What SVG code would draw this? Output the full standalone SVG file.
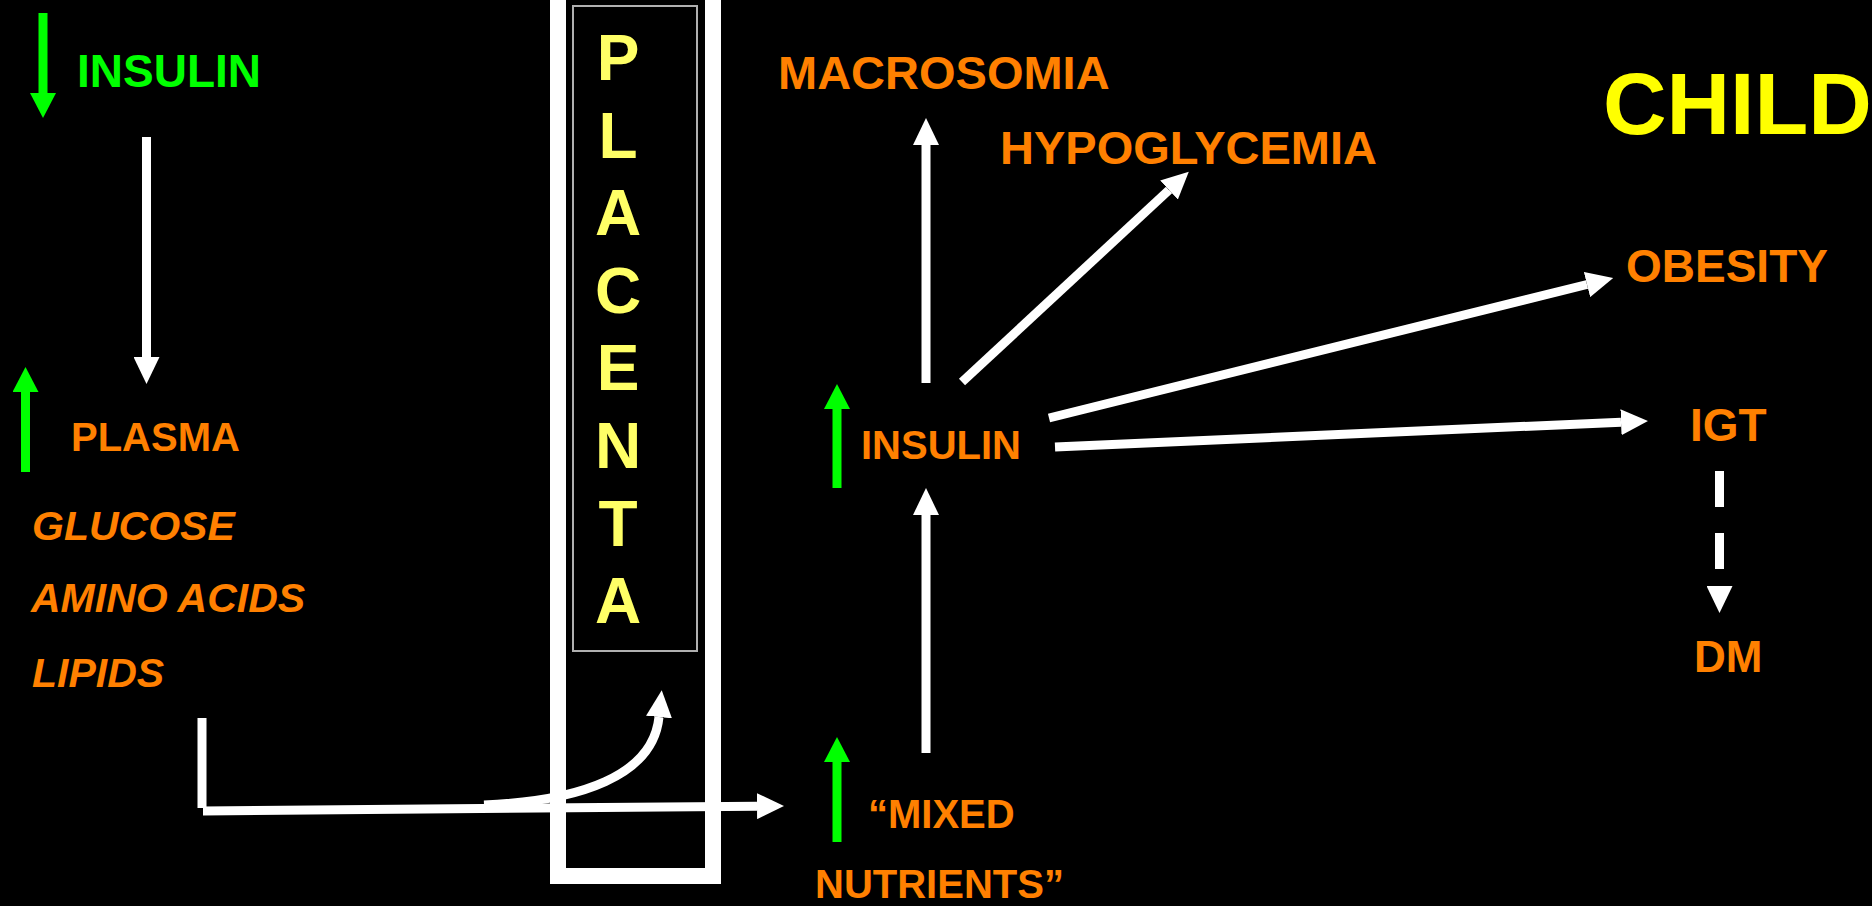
<svg xmlns="http://www.w3.org/2000/svg" width="1872" height="906" viewBox="0 0 1872 906">
<defs>
<style>
text{font-family:"Liberation Sans",Arial,sans-serif;font-weight:bold}
.or{fill:#ff8000}
.gr{fill:#00ff00}
.it{font-style:italic}
.pl{fill:#ffff66;font-size:64px;text-anchor:middle}
.w{stroke:#fff;stroke-width:9;fill:none}
.g{stroke:#00ff00;stroke-width:9;fill:none}
</style>
<marker id="wh" viewBox="0 -13 27 26" refX="0" refY="0" markerWidth="27" markerHeight="26" markerUnits="userSpaceOnUse" orient="auto">
<path d="M0,-13 L27,0 L0,13 Z" fill="#fff"/>
</marker>
<marker id="gh" viewBox="0 -13 25 26" refX="0" refY="0" markerWidth="25" markerHeight="26" markerUnits="userSpaceOnUse" orient="auto">
<path d="M0,-13 L25,0 L0,13 Z" fill="#00ff00"/>
</marker>
</defs>
<rect width="1872" height="906" fill="#000"/>

<g id="placenta">
<path d="M558,0 V876 H713 V0" fill="none" stroke="#fff" stroke-width="16"/>
<rect x="573" y="6" width="124" height="645" fill="none" stroke="#b0b0b0" stroke-width="2"/>
<text class="pl" x="618" y="80">P</text>
<text class="pl" x="618" y="158">L</text>
<text class="pl" x="618" y="235">A</text>
<text class="pl" x="618" y="313">C</text>
<text class="pl" x="618" y="390">E</text>
<text class="pl" x="618" y="468">N</text>
<text class="pl" x="618" y="546">T</text>
<text class="pl" x="618" y="623">A</text>
</g>

<g id="maternal-insulin">
<text class="gr" x="77" y="87" font-size="46">INSULIN</text>
</g>
<g id="plasma">
<text class="or" x="71" y="451" font-size="40">PLASMA</text>
<text class="or it" x="32" y="540" font-size="41">GLUCOSE</text>
<text class="or it" x="31" y="612" font-size="41">AMINO ACIDS</text>
<text class="or it" x="32" y="687" font-size="41">LIPIDS</text>
</g>
<g id="macrosomia"><text class="or" x="778" y="89" font-size="47">MACROSOMIA</text></g>
<g id="hypoglycemia"><text class="or" x="1000" y="164" font-size="47">HYPOGLYCEMIA</text></g>
<g id="child"><text x="1603" y="134" font-size="88" fill="#ffff00">CHILD</text></g>
<g id="obesity"><text class="or" x="1626" y="282" font-size="46">OBESITY</text></g>
<g id="fetal-insulin"><text class="or" x="861" y="459" font-size="40">INSULIN</text></g>
<g id="igt"><text class="or" x="1690" y="441" font-size="46">IGT</text></g>
<g id="dm"><text class="or" x="1694" y="672" font-size="44">DM</text></g>
<g id="mixed-nutrients">
<text class="or" x="868" y="828" font-size="40">“MIXED</text>
<text class="or" x="815" y="898" font-size="40">NUTRIENTS”</text>
</g>

<g id="connectors">
<line class="g" x1="43" y1="13" x2="43" y2="93" stroke-width="8" marker-end="url(#gh)"/>
<line class="g" x1="25.5" y1="472" x2="25.5" y2="392" marker-end="url(#gh)"/>
<line class="g" x1="837" y1="488" x2="837" y2="409" stroke-width="8" marker-end="url(#gh)"/>
<line class="g" x1="837" y1="842" x2="837" y2="762" stroke-width="8" marker-end="url(#gh)"/>

<line class="w" x1="146.5" y1="137" x2="146.5" y2="357" marker-end="url(#wh)"/>
<line class="w" x1="926" y1="383" x2="926" y2="145" stroke-width="8" marker-end="url(#wh)"/>
<line class="w" x1="926" y1="753" x2="926" y2="515" stroke-width="8" marker-end="url(#wh)"/>
<line class="w" x1="962" y1="382" x2="1169" y2="190" marker-end="url(#wh)"/>
<line class="w" x1="1049" y1="418" x2="1587" y2="284.5" marker-end="url(#wh)"/>
<line class="w" x1="1055" y1="447" x2="1621" y2="422.2" marker-end="url(#wh)"/>
<line class="w" x1="1719.5" y1="471" x2="1719.5" y2="586" stroke-dasharray="36 26" marker-end="url(#wh)"/>
<line class="w" x1="202" y1="718" x2="202" y2="808" stroke-width="10"/>
<line class="w" x1="203" y1="811" x2="757" y2="806.2" stroke-width="10" marker-end="url(#wh)"/>
<path class="w" d="M484,805 C580,801 653,776 659,717" marker-end="url(#wh)"/>
</g>
</svg>
